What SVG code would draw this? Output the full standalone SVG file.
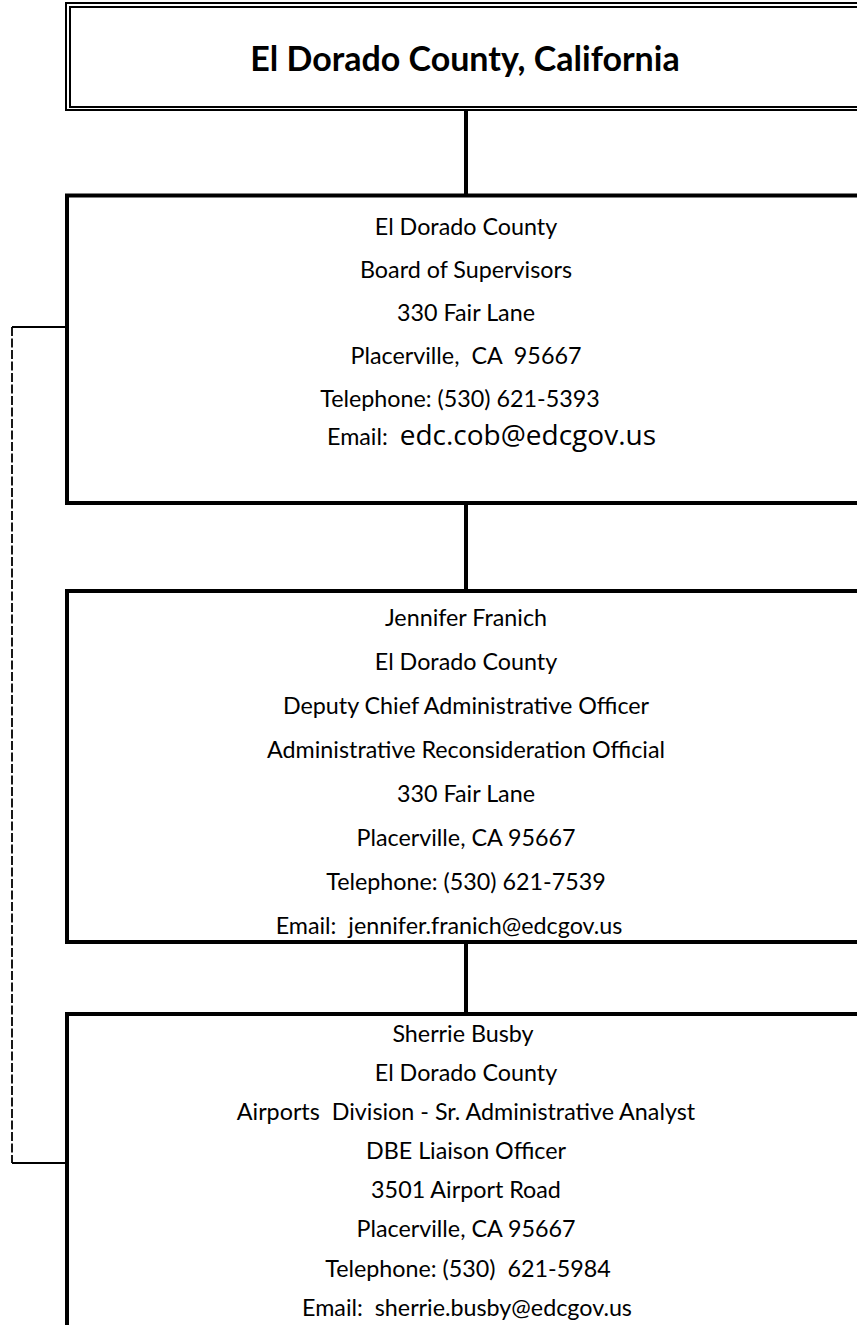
<svg xmlns="http://www.w3.org/2000/svg" width="857" height="1325" viewBox="0 0 857 1325">
<style>
.bg{fill:#fff}
.box{fill:none;stroke:#000;stroke-width:4}
.dbl{fill:none;stroke:#000;stroke-width:2}
.conn{stroke:#000;stroke-width:4;fill:none}
.dash{stroke:#000;stroke-width:1.8;fill:none}
.dashed{stroke-dasharray:9 2.5}
text{font-family:Lato,"Liberation Sans",sans-serif;font-size:23.3px;fill:#000;text-anchor:middle;white-space:pre}
.title{font-weight:bold;font-size:34px}
.start{text-anchor:start}
.big{font-family:"Open Sans","Liberation Sans",sans-serif;font-size:28px}
</style>
<rect class="bg" x="0" y="0" width="857" height="1325"/>
<g id="connectors">
<line class="conn" x1="466" y1="110" x2="466" y2="195"/>
<line class="conn" x1="466" y1="503" x2="466" y2="591"/>
<line class="conn" x1="466" y1="942" x2="466" y2="1014"/>
<polyline class="dash" points="65,327 12,327"/>
<polyline class="dash" points="65,1163 12,1163"/>
<line class="dash dashed" x1="12" y1="327" x2="12" y2="1163"/>
</g>
<g id="title">
<rect class="dbl" x="66" y="3" width="820" height="107"/>
<rect class="dbl" x="70" y="7" width="812" height="100"/>
<text class="title" x="465" y="71">El Dorado County, California</text>
</g>
<g id="board">
<rect class="box" x="67" y="195.5" width="820" height="307.5"/>
<text x="466" y="235">El Dorado County</text>
<text x="466" y="278">Board of Supervisors</text>
<text x="466" y="321">330 Fair Lane</text>
<text x="466" y="364">Placerville,  CA  95667</text>
<text x="460" y="407">Telephone: (530) 621-5393</text>
<text class="start" x="327" y="445" xml:space="preserve">Email:  <tspan class="big">edc.cob@edcgov.us</tspan></text>
</g>
<g id="franich">
<rect class="box" x="67" y="591" width="820" height="351"/>
<text x="466" y="626">Jennifer Franich</text>
<text x="466" y="670">El Dorado County</text>
<text x="466" y="714">Deputy Chief Administrative Officer</text>
<text x="466" y="758">Administrative Reconsideration Official</text>
<text x="466" y="802">330 Fair Lane</text>
<text x="466" y="846">Placerville, CA 95667</text>
<text x="466" y="890">Telephone: (530) 621-7539</text>
<text x="449" y="934">Email:  jennifer.franich@edcgov.us</text>
</g>
<g id="busby">
<rect class="box" x="67" y="1014" width="820" height="340"/>
<text x="463" y="1042">Sherrie Busby</text>
<text x="466" y="1081">El Dorado County</text>
<text x="466" y="1120">Airports  Division - Sr. Administrative Analyst</text>
<text x="466" y="1159">DBE Liaison Officer</text>
<text x="466" y="1198">3501 Airport Road</text>
<text x="466" y="1237">Placerville, CA 95667</text>
<text x="468" y="1277">Telephone: (530)  621-5984</text>
<text x="467" y="1316">Email:  sherrie.busby@edcgov.us</text>
</g>
</svg>
